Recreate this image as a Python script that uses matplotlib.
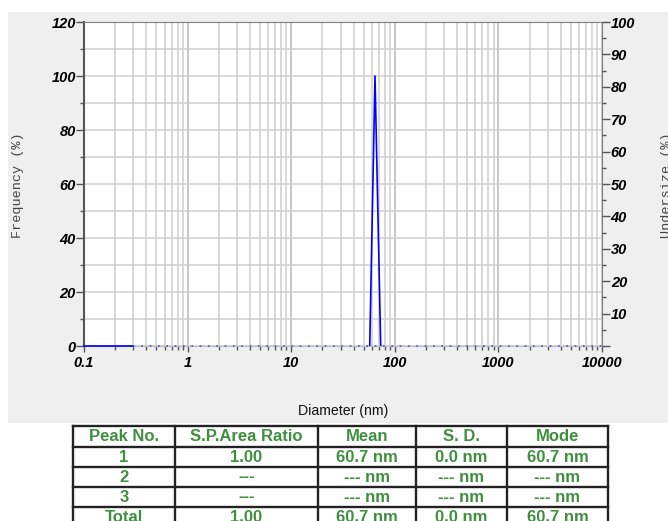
import matplotlib.pyplot as plt
from matplotlib.patches import Rectangle
from matplotlib.ticker import FixedLocator, NullFormatter, MultipleLocator

# size distribution (diameter in nm, frequency in %)
base_d = [0.1, 0.3]
base_f = [0, 0]
peak_d = [57.3, 64.4, 73.1]
peak_f = [0, 100, 0]
under_d = [0.3, 10000]
under_v = [0, 0]

x_ticks = [0.1, 1, 10, 100, 1000, 10000]
x_labels = ['0.1', '1', '10', '100', '1000', '10000']
left_ticks = [0, 20, 40, 60, 80, 100, 120]
right_ticks = [0, 10, 20, 30, 40, 50, 60, 70, 80, 90, 100]

# result table
table_header = ['Peak No.', 'S.P.Area Ratio', 'Mean', 'S. D.', 'Mode']
table_rows = [
    ['1', '1.00', '60.7 nm', '0.0 nm', '60.7 nm'],
    ['2', '---', '--- nm', '--- nm', '--- nm'],
    ['3', '---', '--- nm', '--- nm', '--- nm'],
    ['Total', '1.00', '60.7 nm', '0.0 nm', '60.7 nm'],
]

W, H = 668, 521
fig = plt.figure(figsize=(W / 100, H / 100), dpi=100)

# background / table layer in pixel coordinates
bg = fig.add_axes([0, 0, 1, 1])
bg.set_zorder(-1)
bg.set_xlim(0, W)
bg.set_ylim(H, 0)
bg.axis('off')
bg.add_patch(Rectangle((8, 12), W - 8, 411, facecolor='#efefef', edgecolor='none'))

col_x = [73, 175, 318, 416, 507, 608]
row_y = [426, 447, 467, 487, 507, 527]
green = '#3f8f3f'
for yy in row_y:
    bg.plot([col_x[0], col_x[-1]], [yy, yy], color='#222222', lw=1.7)
for xx in col_x:
    bg.plot([xx, xx], [row_y[0], row_y[-1]], color='#222222', lw=1.7)
for r, row in enumerate([table_header] + table_rows):
    yc = (row_y[r] + row_y[r + 1]) / 2
    for c, txt in enumerate(row):
        xc = (col_x[c] + col_x[c + 1]) / 2
        bg.text(xc, yc, txt, ha='center', va='center', color=green,
                fontsize=12, fontweight='bold', family='Liberation Sans')

bg.text(343.5, 411, 'Diameter (nm)', ha='center', va='center',
        fontsize=10.2, family='Liberation Sans', color='#111111')
bg.text(18, 185, 'Frequency (%)', rotation=90, ha='center', va='center',
        fontsize=9.7, family='Liberation Mono', color='#444444')
bg.text(667, 185, 'Undersize (%)', rotation=90, ha='center', va='center',
        fontsize=9.7, family='Liberation Mono', color='#444444')

# main plot
ax = fig.add_axes([84 / W, 1 - 346 / H, 518 / W, 324 / H])
ax.set_facecolor('white')
ax.set_xscale('log')
ax.set_xlim(0.1, 10000)
ax.set_ylim(0, 120)

ax.grid(which='major', axis='x', color='#b8b8b8', lw=1.1)
ax.grid(which='minor', axis='x', color='#cecece', lw=1.1)
ax.yaxis.set_minor_locator(MultipleLocator(10))
ax.grid(which='both', axis='y', color='#cecece', lw=1.1)
ax.set_axisbelow(True)

ax.plot(base_d, base_f, color='#0000ff', lw=1.2, zorder=3, clip_on=False)
ax.plot(under_d, under_v, color='#4a4aff', lw=1.2, linestyle=(0, (1, 4)),
        zorder=3, clip_on=False)
ax.plot(peak_d, peak_f, color='#0000ff', lw=1.2, zorder=3)

tick_font = dict(family='Liberation Sans', weight='bold', style='italic', size=10.5)

ax.xaxis.set_major_locator(FixedLocator(x_ticks))
ax.set_xticklabels(x_labels, fontdict=tick_font)
ax.xaxis.set_minor_formatter(NullFormatter())
ax.tick_params(axis='x', which='major', length=4.3, width=1, color='#555555', pad=3)
ax.tick_params(axis='x', which='minor', length=2.9, width=1, color='#555555')

ax.set_yticks(left_ticks)
ax.set_yticklabels([str(v) for v in left_ticks], fontdict=tick_font)
ax.tick_params(axis='y', which='major', length=5.8, width=1, color='#555555', pad=0)
ax.tick_params(axis='y', which='minor', length=2.9, width=1, color='#555555')

for side in ['top', 'right']:
    ax.spines[side].set_color('#808080')
ax.spines['left'].set_color('#555555')
ax.spines['left'].set_linewidth(1.5)
ax.spines['bottom'].set_color('#bbbbbb')

ax2 = ax.twinx()
ax2.set_ylim(0, 100)
ax2.set_yticks(right_ticks)
ax2.set_yticklabels([''] + [str(v) for v in right_ticks[1:]], fontdict=tick_font)
ax2.yaxis.set_minor_locator(MultipleLocator(5))
ax2.tick_params(axis='y', which='major', length=5.8, width=1, color='#555555', pad=0.5)
ax2.tick_params(axis='y', which='minor', length=2.9, width=1, color='#555555')
for side in ['top', 'right', 'left', 'bottom']:
    ax2.spines[side].set_visible(False)
ax.spines['right'].set_visible(True)

fig.savefig('out.png', dpi=100)
